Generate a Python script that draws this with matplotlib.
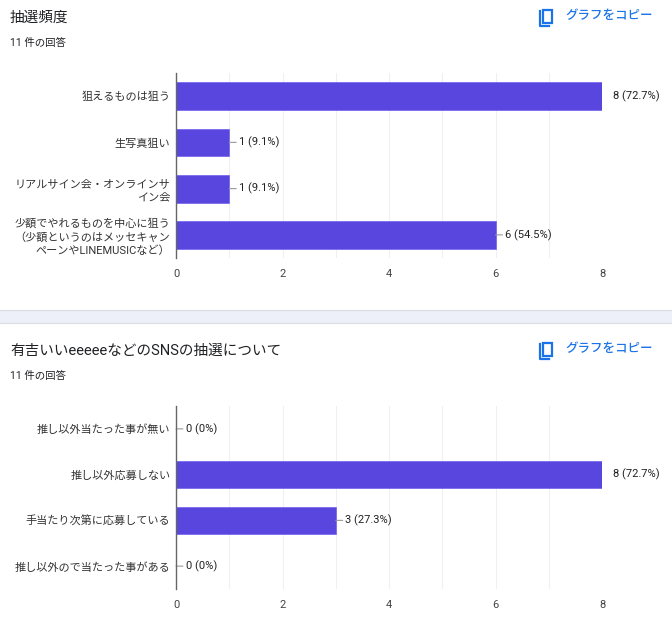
import matplotlib
matplotlib.use("Agg")
import matplotlib.pyplot as plt
from matplotlib.patches import Rectangle

plt.rcParams["font.family"] = ["Roboto", "Noto Sans CJK JP", "DejaVu Sans"]

# Panel 1
title1 = "抽選頻度"
labels1 = [
    "狙えるものは狙う",
    "生写真狙い",
    "リアルサイン会・オンラインサ\nイン会",
    "少額でやれるものを中心に狙う\n（少額というのはメッセキャン\nペーンやLINEMUSICなど）",
]
counts1 = [8, 1, 1, 6]
pcts1 = ["72.7%", "9.1%", "9.1%", "54.5%"]

# Panel 2
title2 = "有吉いいeeeeeなどのSNSの抽選について"
labels2 = [
    "推し以外当たった事が無い",
    "推し以外応募しない",
    "手当たり次第に応募している",
    "推し以外ので当たった事がある",
]
counts2 = [0, 8, 3, 0]
pcts2 = ["0%", "72.7%", "27.3%", "0%"]

responses = "11 件の回答"
copy_text = "グラフをコピー"
xticks = [0, 2, 4, 6, 8]

W, H = 672, 632
BAR = "#5946DF"
BLUE = "#1a73e8"

fig = plt.figure(figsize=(W / 100, H / 100), dpi=100)


def fx(px):
    return px / W


def fy(py):
    return 1 - py / H


# divider band between the two cards
fig.patches.append(Rectangle((0, fy(323)), 1, (323 - 310) / H,
                             transform=fig.transFigure, facecolor="#eef0f9",
                             edgecolor="none", zorder=0))
fig.add_artist(plt.Line2D([0, 1], [fy(310), fy(310)], color="#dadce0", lw=0.8))
fig.add_artist(plt.Line2D([0, 1], [fy(323), fy(323)], color="#dadce0", lw=0.8))


def header(top, title):
    fig.text(fx(10), fy(top + 18), title, fontsize=10.5, color="#202124", va="center")
    fig.text(fx(10), fy(top + 43), responses, fontsize=7.5, color="#202124", va="center")
    fig.text(fx(565), fy(top + 16), copy_text, fontsize=9, color=BLUE,
             va="center", fontweight="medium")
    # copy icon
    fig.patches.append(Rectangle((fx(543), fy(top + 23)), 9 / W, 13 / H,
                                 transform=fig.transFigure, fill=False,
                                 edgecolor=BLUE, lw=1.6))
    fig.add_artist(plt.Line2D([fx(540), fx(540), fx(549)],
                              [fy(top + 11), fy(top + 26), fy(top + 26)],
                              color=BLUE, lw=1.6))


def panel(top_px, bottom_px, labels, counts, pcts):
    left, right = 176, 602
    ax = fig.add_axes([fx(left), fy(bottom_px), (right - left) / W,
                       (bottom_px - top_px) / H])
    y = list(range(len(labels)))
    ax.barh(y, counts, height=0.6, color=BAR, edgecolor="#6f60ec", lw=0.5, zorder=3)
    ax.set_xlim(0, 8)
    ax.set_ylim(len(labels) - 0.5, -0.5)
    ax.set_xticks(xticks)
    ax.set_xticks(range(9), minor=True)
    ax.grid(axis="x", which="both", color="#f0f0f0", lw=0.8, zorder=0)
    ax.tick_params(axis="x", which="both", length=0, labelsize=8, colors="#444444", pad=8)
    ax.set_yticks(y)
    ax.set_yticklabels(labels, fontsize=8, color="#333333", ha="right",
                       linespacing=1.35)
    ax.tick_params(axis="y", length=0, pad=4)
    for s in ["top", "right", "bottom"]:
        ax.spines[s].set_visible(False)
    ax.spines["left"].set_color("#666666")
    ax.spines["left"].set_linewidth(1.0)
    ax.spines["left"].set_zorder(4)
    for yi, c, p in zip(y, counts, pcts):
        txt = f"{c} ({p})"
        if c >= 8:
            ax.annotate(txt, (c, yi), xytext=(8, 0), textcoords="offset points",
                        va="center", fontsize=8, color="#222222",
                        annotation_clip=False)
        else:
            ax.annotate(txt, (c, yi), xytext=(7, 0), textcoords="offset points",
                        va="center", fontsize=8, color="#222222",
                        annotation_clip=False,
                        arrowprops=dict(arrowstyle="-", color="#999999", lw=0.8,
                                        shrinkA=0, shrinkB=0))
    return ax


header(0, title1)
panel(73, 258, labels1, counts1, pcts1)

header(333, title2)
panel(406, 589, labels2, counts2, pcts2)

fig.savefig("out.png", dpi=100, facecolor="white")
